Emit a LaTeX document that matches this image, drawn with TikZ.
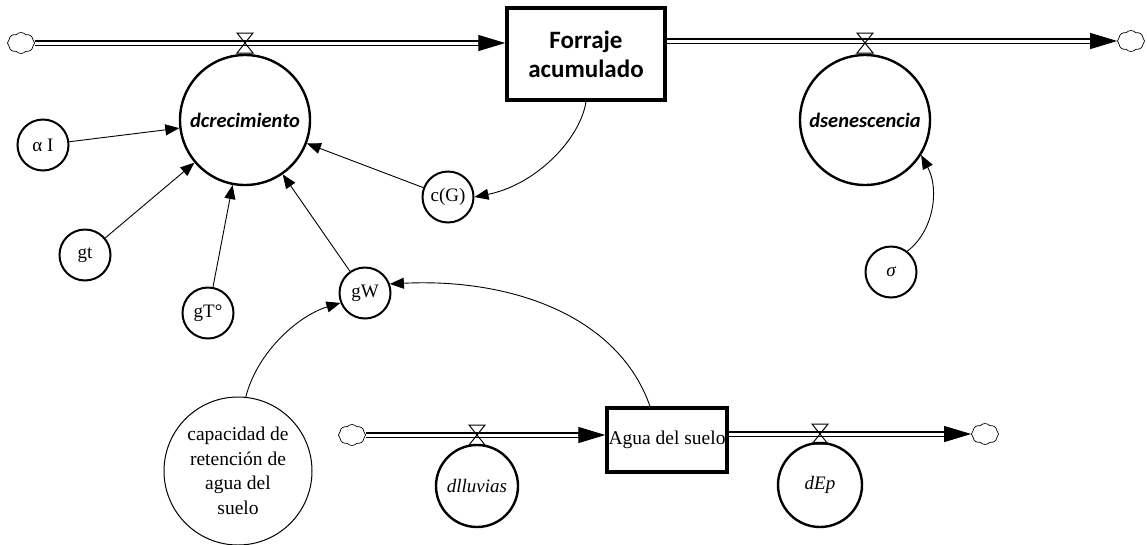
\documentclass[tikz,border=0pt]{standalone}
\usepackage{fontspec}
\setmainfont{Liberation Serif}
\newfontfamily\serifface{Liberation Serif}
\newfontfamily\labelsans{Carlito}
\usetikzlibrary{arrows.meta,shapes.symbols}

\begin{document}
\begin{tikzpicture}[x=1pt,y=-1pt,
  aux/.style={circle,draw,line width=2pt,minimum size=51pt,inner sep=0pt,
    font=\serifface\fontsize{19}{23}\selectfont},
  rate/.style={circle,draw,line width=2.4pt,minimum size=130pt,inner sep=0pt,
    font=\labelsans\bfseries\itshape\fontsize{20.5}{24}\selectfont},
  smallrate/.style={circle,draw,line width=2.4pt,inner sep=0pt,
    font=\serifface\itshape\fontsize{19}{23}\selectfont},
  stock/.style={rectangle,draw,line width=3.4pt,inner sep=0pt,align=center},
  link/.style={-{Triangle[length=14pt,width=11pt]},line width=0.9pt},
  flowpipe/.style={draw,double,double distance=3pt,line width=1.1pt},
  flowtip/.style={-{Triangle[length=27pt,width=16pt]},line width=1pt},
  source/.style={cloud,cloud puffs=8,cloud puff arc=100,cloud ignores aspect,draw,
    line width=0.7pt,minimum width=27pt,minimum height=21pt,inner sep=0pt},
  valvepic/.pic={\draw[line width=1pt] (-8,-10) -- (8,-10) -- (-8,10) -- (8,10) -- cycle;}
]
\useasboundingbox (0,0) rectangle (1147,544);

% stocks
\node[stock,minimum width=158pt,minimum height=92pt,
  font=\labelsans\bfseries\fontsize{25}{29}\selectfont] (forraje) at (586,54) {Forraje\\acumulado};
\node[stock,minimum width=120pt,minimum height=64pt,
  font=\serifface\fontsize{19.5}{23}\selectfont] (agua) at (667,440) {Agua del suelo};

% sources and sinks
\node[source] (cL)  at (21,43) {};
\node[source] (cR)  at (1131,41) {};
\node[source] (cBL) at (352,435) {};
\node[source] (cBR) at (985,434) {};

% rates
\node[rate] (dcrec) at (245,120) {dcrecimiento};
\node[rate] (dsen)  at (865,120) {dsenescencia};
\node[smallrate,minimum size=82pt] (dll) at (477,486) {dlluvias};
\node[smallrate,minimum size=84pt] (dep) at (820,485) {dEp};

% auxiliaries
\node[aux] (aI)    at (43,145)  {α I};
\node[aux] (gt)    at (85,255)  {gt};
\node[aux] (gT)    at (208,313) {gT°};
\node[aux] (gW)    at (365,293) {gW};
\node[aux] (cG)    at (448,197) {c(G)};
\node[aux,font=\serifface\itshape\fontsize{19}{23}\selectfont] (sigma) at (891,272) {σ};
\node[circle,draw,line width=1pt,minimum size=148pt,inner sep=0pt,align=center,
  font=\serifface\fontsize{19.5}{24.5}\selectfont] (cap) at (238,471)
  {capacidad de\\retención de\\agua del\\suelo};

% upper flow: growth into the stock, senescence out of it
\coordinate (fin1) at (cL.east -| forraje.west);
\draw[flowpipe,shorten >=20pt] (cL.east) -- (fin1);
\draw[flowtip] ([xshift=-27pt]fin1) -- (fin1);
\coordinate (fout1) at (cR.west -| forraje.east);
\coordinate (sink1) at (cR.west);
\draw[flowpipe,shorten >=20pt] (fout1) -- (sink1);
\draw[flowtip] ([xshift=-27pt]sink1) -- (sink1);
\pic at (245,43) {valvepic};
\pic at (865,43) {valvepic};

% lower flow: rain into soil water, evapotranspiration out of it
\coordinate (fin2) at (cBL.east -| agua.west);
\draw[flowpipe,shorten >=20pt] (cBL.east) -- (fin2);
\draw[flowtip] ([xshift=-27pt]fin2) -- (fin2);
\coordinate (fout2) at (cBR.west -| agua.east);
\coordinate (sink2) at (cBR.west);
\draw[flowpipe,shorten >=20pt] (fout2) -- (sink2);
\draw[flowtip] ([xshift=-27pt]sink2) -- (sink2);
\pic at (477,435) {valvepic};
\pic at (820,434) {valvepic};

% information links
\draw[link] (aI) -- (dcrec);
\draw[link] (gt) -- (dcrec);
\draw[link] (gT) -- (dcrec);
\draw[link] (gW) -- (dcrec);
\draw[link] (cG) -- (dcrec);
\draw[link] (forraje.south) .. controls (580,140) and (535,185) .. (cG.east);
\draw[link] (sigma.52) .. controls (933,232) and (940,190) .. (dsen.-32);
\draw[link] (cap.84) .. controls (258,350) and (300,315) .. (gW.-158);
\draw[link] ([xshift=-17pt]agua.north) .. controls (618,315) and (510,278) .. (gW.20);
\end{tikzpicture}
\end{document}
